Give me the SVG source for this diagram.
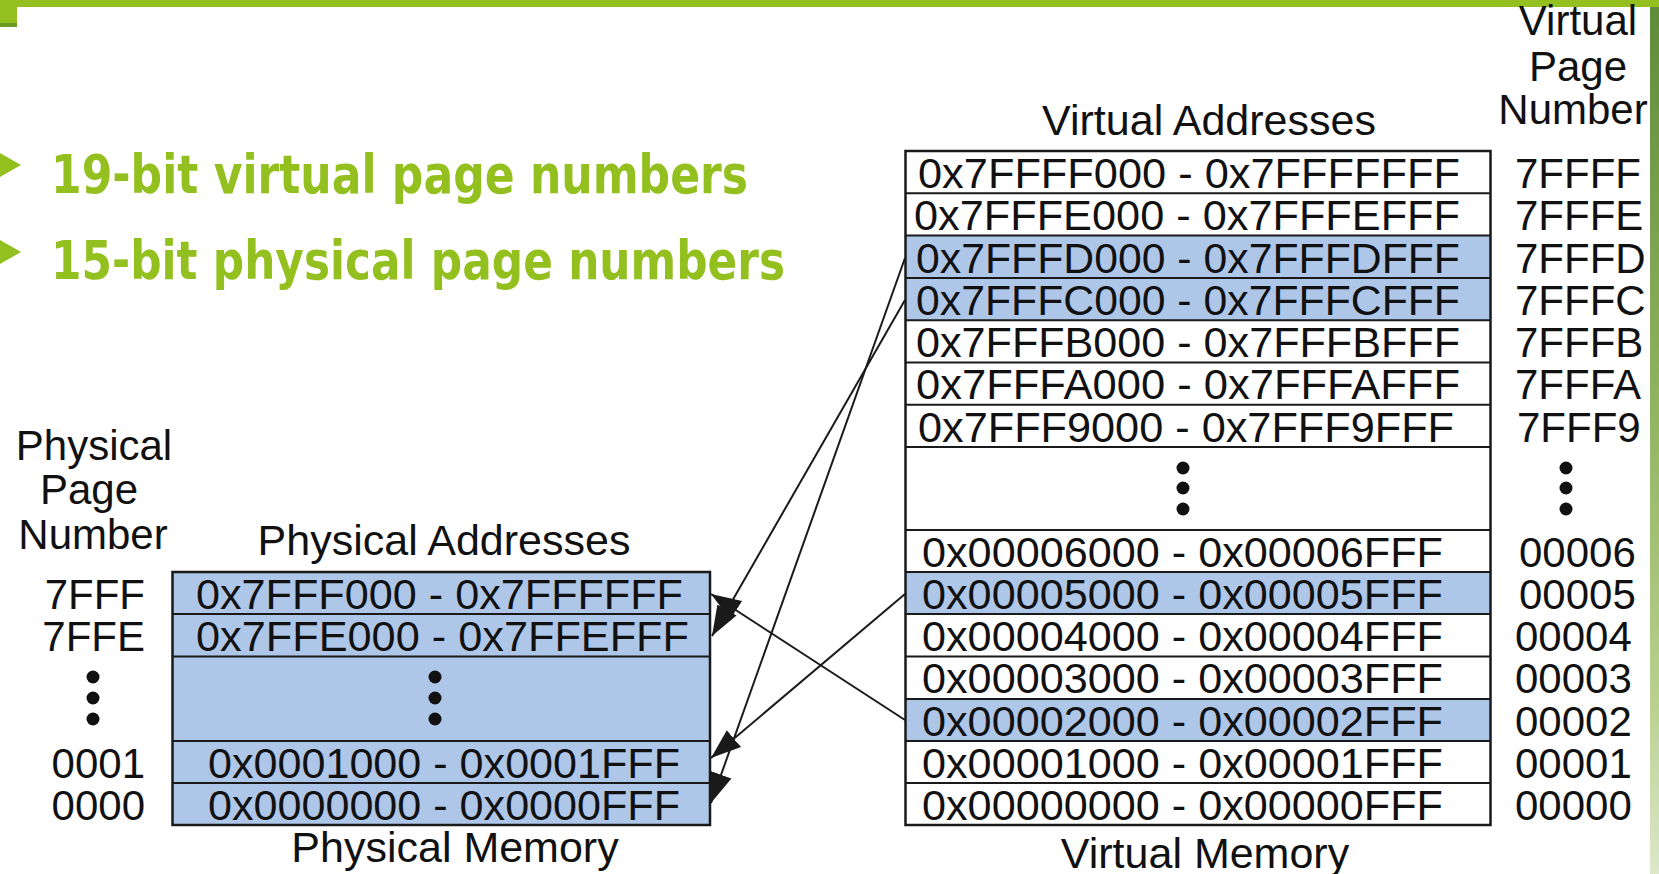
<svg xmlns="http://www.w3.org/2000/svg" width="1659" height="874" viewBox="0 0 1659 874">
<defs>
<style>
.t{font-family:"Liberation Sans",Arial,sans-serif;font-size:42px;fill:#111}
.h{font-size:43px}
.c{text-anchor:middle}
.e{text-anchor:end}
.g{font-family:"DejaVu Sans","Open Sans",sans-serif;font-weight:bold;font-size:54px;fill:#93C01F}
.box{stroke:#1a1a1a;stroke-width:2.5}
.ln{stroke:#1a1a1a;stroke-width:2}
.blue{fill:#AEC6E8}
.con{stroke:#1a1a1a;stroke-width:2;fill:none;marker-end:url(#ah)}
</style>
<marker id="ah" markerUnits="userSpaceOnUse" markerWidth="32" markerHeight="26" refX="30" refY="13" orient="auto">
<path d="M0,2 L30,13 L0,24 Z" fill="#1a1a1a"/>
</marker>
<linearGradient id="rb" x1="0" y1="0" x2="0" y2="1">
<stop offset="0" stop-color="#5f8c3a"/>
<stop offset="0.45" stop-color="#8fb35e"/>
<stop offset="0.8" stop-color="#b9d08f"/>
<stop offset="1" stop-color="#dce8c8"/>
</linearGradient>
</defs>
<rect width="1659" height="874" fill="#fff"/>
<g id="frame">
<rect x="0" y="0" width="1659" height="7" fill="#93C01F"/>
<rect x="0" y="0" width="17" height="23" fill="#93C01F"/>
<rect x="0" y="23" width="17" height="4" fill="#6f9a22"/>
<rect x="1650" y="7" width="9" height="867" fill="url(#rb)"/>
</g>
<g id="bullets">
<polygon points="0,153 21,165 0,177" fill="#93C01F"/>
<text class="g" x="51" y="193" textLength="697" lengthAdjust="spacingAndGlyphs">19-bit virtual page numbers</text>
<polygon points="0,240 21,252 0,264" fill="#93C01F"/>
<text class="g" x="51" y="279" textLength="734" lengthAdjust="spacingAndGlyphs">15-bit physical page numbers</text>
</g>
<g id="virtual-memory">
<rect x="905.5" y="235.6" width="585" height="84.4" class="blue"/>
<rect x="905.5" y="572" width="585" height="42" class="blue"/>
<rect x="905.5" y="699" width="585" height="42" class="blue"/>
<rect x="905.5" y="151" width="585" height="674" fill="none" class="box"/>
<g class="ln">
<line x1="905.5" y1="193.3" x2="1490.5" y2="193.3"/>
<line x1="905.5" y1="235.6" x2="1490.5" y2="235.6"/>
<line x1="905.5" y1="277.9" x2="1490.5" y2="277.9"/>
<line x1="905.5" y1="320.2" x2="1490.5" y2="320.2"/>
<line x1="905.5" y1="362.5" x2="1490.5" y2="362.5"/>
<line x1="905.5" y1="404.8" x2="1490.5" y2="404.8"/>
<line x1="905.5" y1="447" x2="1490.5" y2="447"/>
<line x1="905.5" y1="530" x2="1490.5" y2="530"/>
<line x1="905.5" y1="572" x2="1490.5" y2="572"/>
<line x1="905.5" y1="614" x2="1490.5" y2="614"/>
<line x1="905.5" y1="656.5" x2="1490.5" y2="656.5"/>
<line x1="905.5" y1="699" x2="1490.5" y2="699"/>
<line x1="905.5" y1="741" x2="1490.5" y2="741"/>
<line x1="905.5" y1="783" x2="1490.5" y2="783"/>
</g>
<text class="t h c" x="1209" y="135">Virtual Addresses</text>
<text class="t" x="918" y="188" textLength="542" lengthAdjust="spacingAndGlyphs">0x7FFFF000 - 0x7FFFFFFF</text>
<text class="t" x="914" y="230" textLength="546" lengthAdjust="spacingAndGlyphs">0x7FFFE000 - 0x7FFFEFFF</text>
<text class="t" x="916" y="273" textLength="544" lengthAdjust="spacingAndGlyphs">0x7FFFD000 - 0x7FFFDFFF</text>
<text class="t" x="916" y="315" textLength="544" lengthAdjust="spacingAndGlyphs">0x7FFFC000 - 0x7FFFCFFF</text>
<text class="t" x="916" y="357" textLength="544" lengthAdjust="spacingAndGlyphs">0x7FFFB000 - 0x7FFFBFFF</text>
<text class="t" x="916" y="399" textLength="544" lengthAdjust="spacingAndGlyphs">0x7FFFA000 - 0x7FFFAFFF</text>
<text class="t" x="918" y="442" textLength="536" lengthAdjust="spacingAndGlyphs">0x7FFF9000 - 0x7FFF9FFF</text>
<circle cx="1183" cy="468" r="6.5" fill="#111"/>
<circle cx="1183" cy="488" r="6.5" fill="#111"/>
<circle cx="1183" cy="509" r="6.5" fill="#111"/>
<text class="t" x="922" y="567" textLength="521" lengthAdjust="spacingAndGlyphs">0x00006000 - 0x00006FFF</text>
<text class="t" x="922" y="609" textLength="521" lengthAdjust="spacingAndGlyphs">0x00005000 - 0x00005FFF</text>
<text class="t" x="922" y="651" textLength="521" lengthAdjust="spacingAndGlyphs">0x00004000 - 0x00004FFF</text>
<text class="t" x="922" y="693" textLength="521" lengthAdjust="spacingAndGlyphs">0x00003000 - 0x00003FFF</text>
<text class="t" x="922" y="736" textLength="521" lengthAdjust="spacingAndGlyphs">0x00002000 - 0x00002FFF</text>
<text class="t" x="922" y="778" textLength="521" lengthAdjust="spacingAndGlyphs">0x00001000 - 0x00001FFF</text>
<text class="t" x="922" y="820" textLength="521" lengthAdjust="spacingAndGlyphs">0x00000000 - 0x00000FFF</text>
<text class="t h c" x="1205" y="868">Virtual Memory</text>
</g>
<g id="virtual-page-numbers">
<text class="t c" x="1578" y="35">Virtual</text>
<text class="t c" x="1578" y="81">Page</text>
<text class="t c" x="1573" y="124">Number</text>
<text class="t" x="1515" y="188">7FFFF</text>
<text class="t" x="1515" y="230">7FFFE</text>
<text class="t" x="1515" y="273">7FFFD</text>
<text class="t" x="1515" y="315">7FFFC</text>
<text class="t" x="1515" y="357">7FFFB</text>
<text class="t" x="1515" y="399">7FFFA</text>
<text class="t" x="1517" y="442">7FFF9</text>
<circle cx="1566" cy="468" r="6.5" fill="#111"/>
<circle cx="1566" cy="488" r="6.5" fill="#111"/>
<circle cx="1566" cy="509" r="6.5" fill="#111"/>
<text class="t" x="1519" y="567">00006</text>
<text class="t" x="1519" y="609">00005</text>
<text class="t" x="1515" y="651">00004</text>
<text class="t" x="1515" y="693">00003</text>
<text class="t" x="1515" y="736">00002</text>
<text class="t" x="1515" y="778">00001</text>
<text class="t" x="1515" y="820">00000</text>
</g>
<g id="physical-memory">
<rect x="172.5" y="572" width="537.5" height="253" class="blue box"/>
<g class="ln">
<line x1="172.5" y1="614" x2="710" y2="614"/>
<line x1="172.5" y1="656.5" x2="710" y2="656.5"/>
<line x1="172.5" y1="741" x2="710" y2="741"/>
<line x1="172.5" y1="783" x2="710" y2="783"/>
</g>
<text class="t h c" x="444" y="555">Physical Addresses</text>
<text class="t" x="196" y="609" textLength="487" lengthAdjust="spacingAndGlyphs">0x7FFF000 - 0x7FFFFFF</text>
<text class="t" x="196" y="651" textLength="493" lengthAdjust="spacingAndGlyphs">0x7FFE000 - 0x7FFEFFF</text>
<circle cx="435" cy="677" r="6.5" fill="#111"/>
<circle cx="435" cy="698" r="6.5" fill="#111"/>
<circle cx="435" cy="719" r="6.5" fill="#111"/>
<text class="t" x="208" y="778" textLength="472" lengthAdjust="spacingAndGlyphs">0x0001000 - 0x0001FFF</text>
<text class="t" x="208" y="820" textLength="472" lengthAdjust="spacingAndGlyphs">0x0000000 - 0x0000FFF</text>
<text class="t h c" x="455" y="862">Physical Memory</text>
</g>
<g id="physical-page-numbers">
<text class="t c" x="94" y="460">Physical</text>
<text class="t c" x="89" y="504">Page</text>
<text class="t c" x="93" y="549">Number</text>
<text class="t e" x="145" y="609">7FFF</text>
<text class="t e" x="145" y="651">7FFE</text>
<circle cx="93" cy="677" r="6.5" fill="#111"/>
<circle cx="93" cy="698" r="6.5" fill="#111"/>
<circle cx="93" cy="719" r="6.5" fill="#111"/>
<text class="t e" x="145" y="778">0001</text>
<text class="t e" x="145" y="820">0000</text>
</g>
<g id="connectors">
<path class="con" d="M905,258 L711,803"/>
<path class="con" d="M905,300 L712,636"/>
<path class="con" d="M905,594 L711,758"/>
<path class="con" d="M905,720 L711,594"/>
</g>
</svg>
